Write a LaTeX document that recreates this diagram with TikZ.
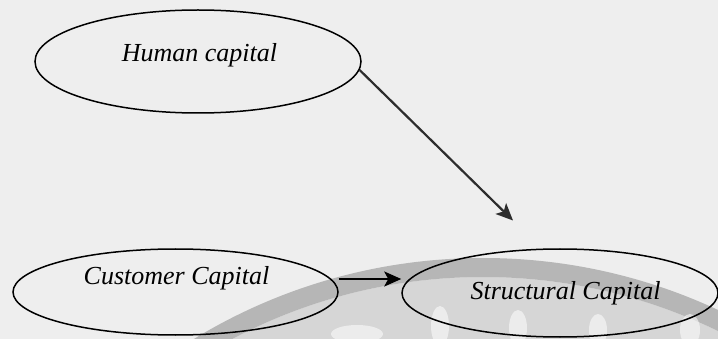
\documentclass[tikz,border=0pt]{standalone}
\usepackage{fontspec}
\setmainfont{Liberation Serif}
\usetikzlibrary{shapes.geometric,arrows.meta}
\definecolor{bgc}{RGB}{238,238,238}
\definecolor{bandc}{RGB}{182,182,182}
\definecolor{diskc}{RGB}{214,214,214}
\definecolor{linec}{RGB}{45,45,45}
\tikzset{
  capnode/.style={draw=black, line width=1.5pt, ellipse, inner sep=0pt},
  lbl/.style={anchor=base, inner sep=0pt, font=\fontsize{26}{30}\selectfont\itshape, text=black},
  conn/.style={line width=2.2pt, draw=linec, -{Stealth[length=17pt,width=15pt,inset=4pt]}},
  blob/.style={fill=white, opacity=0.55}
}
\begin{document}
\begin{tikzpicture}[x=1pt,y=-1pt]
\useasboundingbox (0,0) rectangle (718,339);
\fill[bgc] (0,0) rectangle (718,339);
\begin{scope}
  \clip (0,0) rectangle (718,339);
  \fill[diskc] (483,814) circle (537pt);
  \fill[bandc, even odd rule] (483,814) circle (556pt) (483,814) circle (537pt);
  \fill[blob] (357,334) ellipse (26pt and 9pt);
  \fill[blob] (440,326) ellipse (9pt and 20pt);
  \fill[blob] (518,328) ellipse (9pt and 18pt);
  \fill[blob] (598,330) ellipse (9pt and 16pt);
  \fill[blob] (690,330) ellipse (10pt and 16pt);
\end{scope}

\node[capnode, minimum width=326pt, minimum height=103pt] (hc) at (198,61.5) {};
\node[capnode, minimum width=325pt, minimum height=86pt] (cc) at (175.5,292) {};
\node[capnode, minimum width=316pt, minimum height=88pt] (sc) at (560,293) {};

\node[lbl] (hct) at (199.5,62) {Human capital};
\node[lbl] (cct) at (176.5,285) {Customer Capital};
\node[lbl] (sct) at (565.5,300) {Structural Capital};

\coordinate (tip) at (513,220.5);
\draw[conn, fill=gray!70!black] (hc.-3) -- (tip);
\draw[conn, draw=black, fill=black] ([yshift=13pt]cc.east) -- ([yshift=14pt]sc.west);
\end{tikzpicture}
\end{document}
